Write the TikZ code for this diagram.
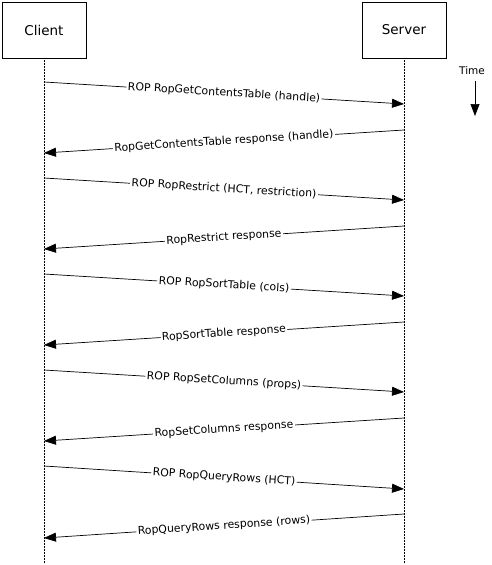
\documentclass[tikz,border=0pt]{standalone}
\usepackage{fontspec}
\setmainfont{DejaVu Sans}
\usetikzlibrary{arrows.meta}
\tikzset{
	actor/.style={draw, minimum width=84pt, minimum height=56pt, font=\fontsize{13.5}{15}\selectfont},
	lifeline/.style={densely dotted, line width=0.5pt},
	msg/.style={-{Triangle[length=12pt, width=9pt]}, line width=0.7pt},
	msglabel/.style={midway, sloped, fill=white, inner sep=1.5pt, font=\fontsize{10.9}{12}\selectfont}
}
\begin{document}
\begin{tikzpicture}[x=1pt, y=-1pt]
			%%%%% START %%%%%
			\useasboundingbox (0, 0) rectangle (492, 565);
			
			\node[actor] (client) at (44, 30) {Client};
			\node[actor] (server) at (404, 30) {Server};
			
			\coordinate (clientend) at (44, 563);
			\coordinate (serverend) at (404, 563);
			\draw[lifeline] (client.south) -- (clientend);
			\draw[lifeline] (server.south) -- (serverend);
			
			\node (time) at (472, 71) {\fontsize{10.5}{12}\selectfont Time};
			\coordinate (timeend) at (475, 116);
			\draw[msg] (475, 81) -- (timeend);
			
			\coordinate (c1) at (44, 82);  \coordinate (s1) at (404, 104);
			\coordinate (s2) at (404, 130); \coordinate (c2) at (44, 153);
			\coordinate (c3) at (44, 178); \coordinate (s3) at (404, 200);
			\coordinate (s4) at (404, 226); \coordinate (c4) at (44, 249);
			\coordinate (c5) at (44, 274); \coordinate (s5) at (404, 296);
			\coordinate (s6) at (404, 322); \coordinate (c6) at (44, 345);
			\coordinate (c7) at (44, 370); \coordinate (s7) at (404, 392);
			\coordinate (s8) at (404, 418); \coordinate (c8) at (44, 441);
			\coordinate (c9) at (44, 466); \coordinate (s9) at (404, 489);
			\coordinate (s10) at (404, 514); \coordinate (c10) at (44, 538);
			
			\draw[msg] (c1) -- (s1) node[msglabel] {ROP RopGetContentsTable (handle)};
			\draw[msg] (s2) -- (c2) node[msglabel] {RopGetContentsTable response (handle)};
			\draw[msg] (c3) -- (s3) node[msglabel] {ROP RopRestrict (HCT, restriction)};
			\draw[msg] (s4) -- (c4) node[msglabel] {RopRestrict response};
			\draw[msg] (c5) -- (s5) node[msglabel] {ROP RopSortTable (cols)};
			\draw[msg] (s6) -- (c6) node[msglabel] {RopSortTable response};
			\draw[msg] (c7) -- (s7) node[msglabel] {ROP RopSetColumns (props)};
			\draw[msg] (s8) -- (c8) node[msglabel] {RopSetColumns response};
			\draw[msg] (c9) -- (s9) node[msglabel] {ROP RopQueryRows (HCT)};
			\draw[msg] (s10) -- (c10) node[msglabel] {RopQueryRows response (rows)};
			%%%%% END %%%%%
\end{tikzpicture}
\end{document}
